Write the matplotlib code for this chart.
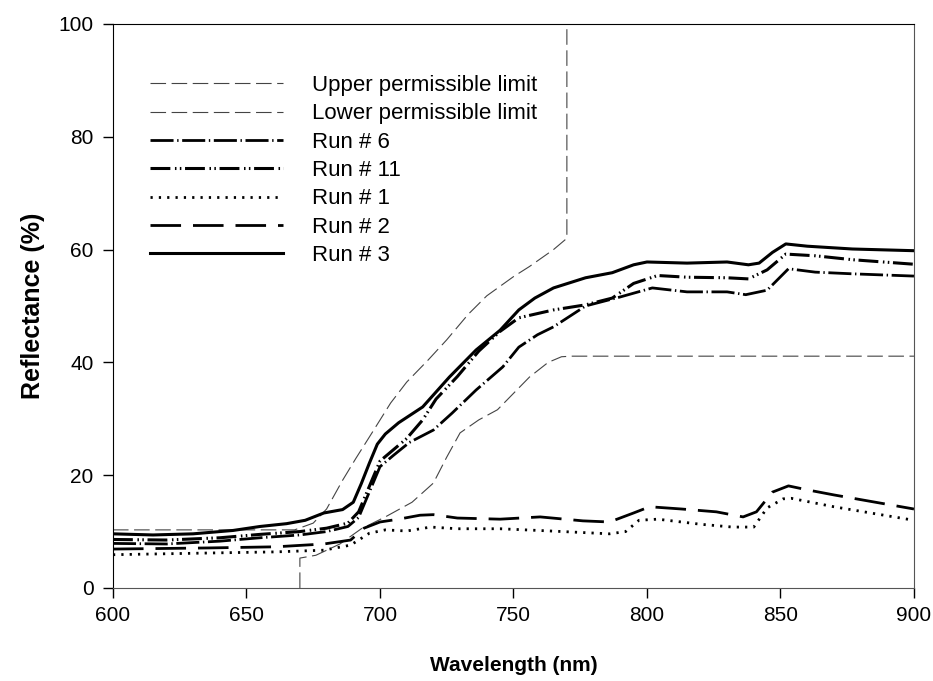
import matplotlib
matplotlib.use('Agg')
from matplotlib import pyplot as plt

plt.rcParams['font.family'] = ['Liberation Sans', 'DejaVu Sans']

# permissible limits
wl_upper = [600, 640, 668, 675, 680, 686, 691, 697, 704, 710, 718, 725, 733, 740, 750, 756, 765, 770, 770]
upper = [10.3, 10.3, 10.3, 11.5, 14, 19.1, 23, 27.5, 32.8, 36.5, 40.4, 44, 48.5, 51.8, 55.2, 57, 60, 62, 100]

wl_lower = [670, 670, 676, 685, 693, 702, 712, 720, 725, 730, 737, 744, 750, 756, 763, 768, 772, 900]
lower = [0, 5.3, 5.8, 7.8, 10.5, 12.6, 15.2, 18.6, 23.2, 27.5, 29.8, 31.6, 34.5, 37.4, 40, 41, 41.1, 41.1]

# runs
wl_run6 = [600, 620, 640, 655, 670, 680, 688, 692, 696, 700, 705, 711, 720, 727, 736, 746, 752, 759, 765,
           777, 790, 802, 815, 830, 837, 845, 853, 863, 877, 900]
run6 = [7.9, 7.8, 8.3, 8.9, 9.4, 10.0, 10.9, 12.5, 17, 21.5, 23.5, 25.8, 28, 31, 35.1, 39.2, 42.7, 44.9, 46.3,
        50, 51.6, 53.2, 52.5, 52.5, 52, 52.8, 56.6, 56, 55.7, 55.3]

wl_run11 = [600, 620, 640, 655, 670, 680, 688, 692, 696, 700, 705, 710, 716, 721, 729, 737, 745, 752, 765,
            777, 787, 795, 804, 815, 830, 838, 845, 852, 863, 877, 900]
run11 = [8.6, 8.5, 8.9, 9.5, 10.0, 10.6, 11.5, 13.5, 18, 22.5, 24.5, 26.5, 29.8, 33.5, 37.5, 42, 45.5, 47.9, 49.3,
         50.2, 51.4, 54, 55.4, 55.1, 55, 54.8, 56.4, 59.2, 58.9, 58.2, 57.4]

wl_run1 = [600, 636, 661, 679, 689, 696, 702, 710, 719, 729, 745, 764, 786, 792, 797, 804, 820, 832, 840,
           845, 851, 854, 870, 900]
run1 = [5.9, 6.2, 6.4, 6.7, 7.6, 9.7, 10.3, 10.1, 10.8, 10.5, 10.5, 10.1, 9.6, 10, 12, 12.2, 11.3, 10.8, 10.8,
        14.2, 15.8, 15.9, 14.4, 12]

wl_run2 = [600, 636, 661, 679, 689, 694, 700, 707, 715, 720, 729, 745, 760, 776, 786, 795, 801, 813, 826,
           836, 841, 847, 853, 860, 870, 900]
run2 = [6.9, 7.1, 7.3, 7.8, 8.5, 10.6, 11.7, 12.2, 12.9, 13.0, 12.4, 12.2, 12.6, 11.9, 11.7, 13.3, 14.4, 14, 13.5,
        12.6, 13.5, 17, 18.1, 17.4, 16.5, 14]

wl_run3 = [600, 615, 630, 645, 655, 665, 672, 679, 686, 690, 693, 696, 699, 702, 707, 716, 726, 736, 745,
           752, 758, 765, 777, 787, 795, 800, 815, 830, 838, 842, 847, 852, 860, 877, 900]
run3 = [9.6, 9.4, 9.6, 10.2, 10.9, 11.4, 12.0, 13.3, 13.9, 15.2, 18.5, 22.1, 25.5, 27.3, 29.3, 32.1, 37.4, 42.2, 45.7,
        49.3, 51.4, 53.2, 55, 55.9, 57.3, 57.8, 57.6, 57.8, 57.3, 57.6, 59.5, 61, 60.6, 60.1, 59.8]

fig = plt.figure(figsize=(9.33, 6.81), dpi=100)
ax = fig.add_axes([0.1211, 0.1366, 0.8585, 0.8282])

lim_col = '#444444'
ax.plot(wl_upper, upper, color=lim_col, lw=0.8, dashes=(14, 5), label='Upper permissible limit')
ax.plot(wl_lower, lower, color=lim_col, lw=0.8, dashes=(14, 5), label='Lower permissible limit')
ax.plot(wl_run6, run6, color='black', lw=2.0, dashes=(8.3, 1.3, 0.5, 1.3), label='Run # 6')
ax.plot(wl_run11, run11, color='black', lw=2.2, dashes=(6.5, 1.5, 0.5, 1.1, 0.5, 1.2), label='Run # 11')
ax.plot(wl_run1, run1, color='black', lw=2.0, dashes=(0.8, 2.2), label='Run # 1')
ax.plot(wl_run2, run2, color='black', lw=2.0, dashes=(11, 4.3), label='Run # 2')
ax.plot(wl_run3, run3, color='black', lw=2.2, label='Run # 3')

ax.set_xlim(600, 900)
ax.set_ylim(0, 100)
ax.set_xticks(range(600, 901, 50))
ax.set_yticks(range(0, 101, 20))
ax.tick_params(direction='out', length=7, width=1, labelsize=15)
ax.tick_params(axis='y', pad=7)
ax.tick_params(axis='x', pad=6)
ax.spines['bottom'].set_color('#555555')
ax.spines['right'].set_color('#555555')

ax.set_xlabel('Wavelength (nm)', fontsize=15, fontweight='bold', labelpad=22)
ax.set_ylabel('Reflectance (%)', fontsize=18, fontweight='bold', labelpad=10)

ax.legend(loc='upper left', bbox_to_anchor=(0.035, 0.925), frameon=False, fontsize=16,
          handlelength=6, handletextpad=1.3, labelspacing=0.33, borderaxespad=0)

fig.savefig('out.png', dpi=100)
